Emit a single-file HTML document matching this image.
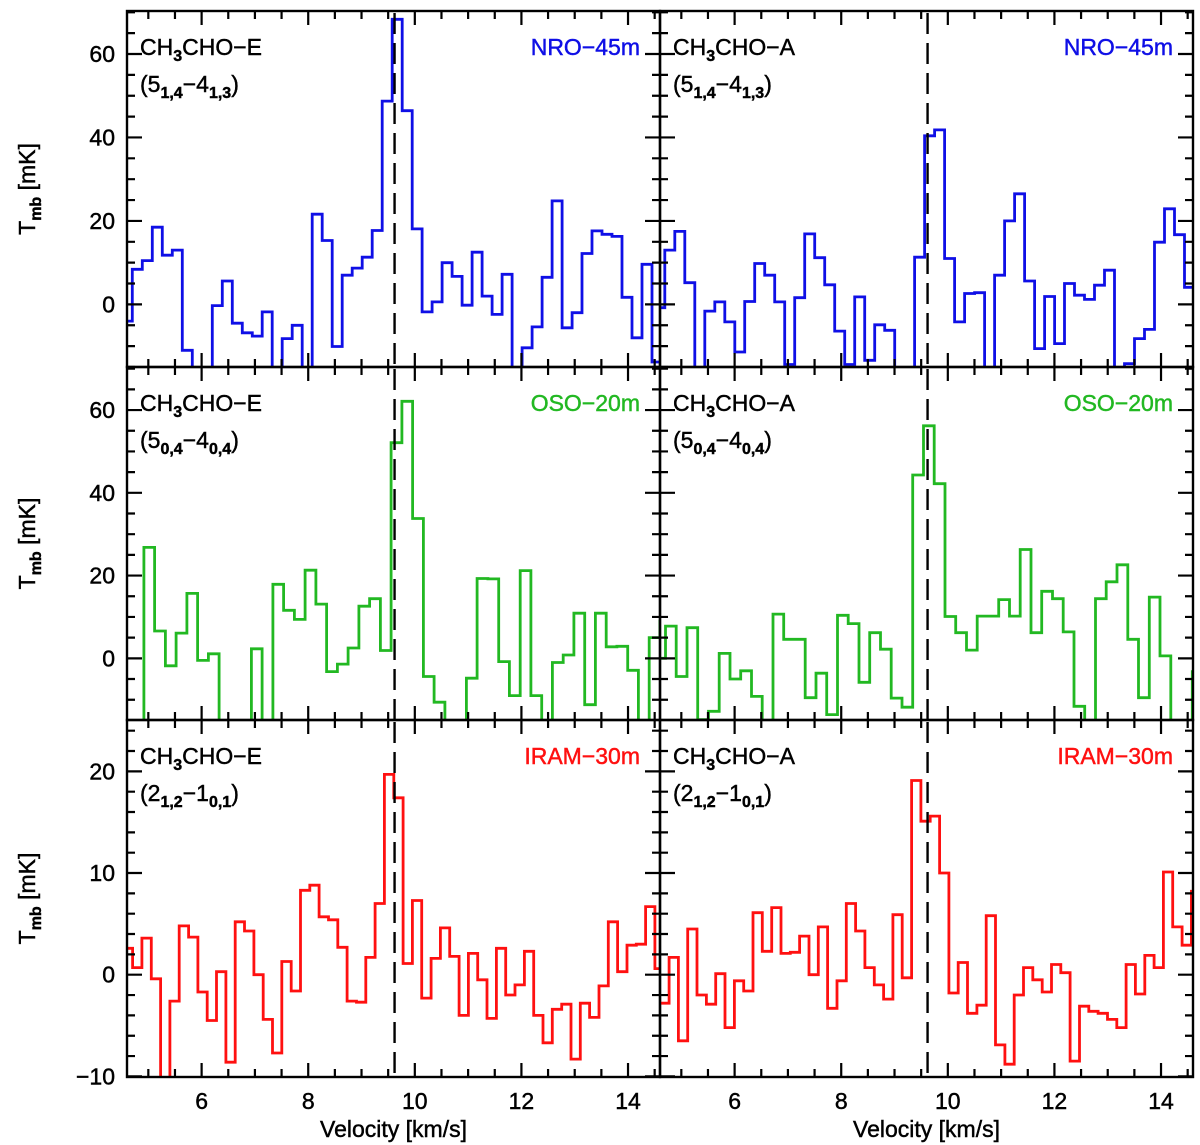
<!DOCTYPE html>
<html><head><meta charset="utf-8">
<style>
html,body{margin:0;padding:0;background:#fff;}
svg{display:block;font-family:"Liberation Sans",sans-serif;}
svg text{stroke-width:0.45;}
</style></head>
<body>
<svg id="chart" width="1200" height="1145" viewBox="0 0 1200 1145" xmlns="http://www.w3.org/2000/svg"></svg>
<script>
// ---- data ----
const velocityTicks = [6, 8, 10, 12, 14];
const vSys = 9.62;
const nroEStart = 4.5125, nroAStart = 4.5025, nroWidth = 0.1875;
const nroE = [-4, 8.4, 10.5, 18.5, 11.8, 13.0, -11, -20, -20, -0.3, 5.6, -4.5, -6.8, -7.6, -1.8, -18, -8.2, -5.0, -20, 21.6, 15.3, -10.1, 7.0, 8.7, 11.3, 17.7, 48.7, 68.3, 46.4, 18.1, -1.8, 0.6, 10.0, 6.7, -0.2, 12.5, 2.0, -2.4, 7.2, -16, -10.4, -5.4, 6.5, 24.8, -5.6, -2.0, 12.2, 17.6, 16.8, 16.3, 1.7, -8.0, 9.6, -13.8, -10];
const nroA = [-0.8, 13.0, 17.5, 5.2, -20, -1.6, 0.6, -4.2, -11.4, 0.7, 9.8, 7.0, 0.6, -14.4, 1.6, 16.9, 11.2, 4.7, -6.4, -14.4, 1.8, -13.4, -4.9, -6.2, -20, -20, 11.3, 40.4, 41.8, 11.0, -4.2, 2.6, 2.8, -20, 7.0, 20.0, 26.5, 5.6, -10.6, 1.9, -9.4, 5.0, 2.2, 1.2, 4.6, 8.2, -20, -14.2, -8.2, -6.0, 14.9, 22.9, 16.7, 4.1, -2.6];
const osoEStart = 4.715, osoAStart = 4.501, osoWidth = 0.2017;
const osoE = [-20, 26.8, 6.6, -1.8, 6.1, 15.7, -0.5, 1.1, -20, -20, -20, 2.3, -20, 17.9, 11.6, 9.4, 21.3, 13.1, -3.2, -1.4, 2.5, 12.6, 14.4, 1.9, 52.1, 62.1, 33.8, -4.4, -10.6, -20, -20, -4.8, 19.3, 19.2, -0.8, -9.0, 21.2, -9.0, -20, -1.0, 0.8, 10.9, -11.2, 10.9, 2.8, 2.9, -2.9, -20, 5.0, 9.0];
const osoA = [0.0, 7.8, -4.4, 7.4, -14.8, -12.8, 1.2, -5.0, -3.0, -9.2, -20, 10.7, 4.6, 4.6, -9.5, -3.6, -13.6, 10.4, 8.4, -5.8, 6.2, 2.2, -9.6, -11.8, 44.3, 56.2, 42.2, 10.1, 6.2, 2.0, 10.2, 10.2, 14.2, 10.2, 26.3, 6.2, 16.2, 14.4, 6.4, -11.6, -20, 14.4, 18.5, 22.6, 4.6, -9.5, 14.8, 0.6, -20, -20, -3.2];
const iramEStart = 4.53, iramAStart = 4.595, iramWidth = 0.175;
const iramE = [2.6, 0.7, 3.6, -0.4, -12, -2.6, 4.8, 3.7, -1.7, -4.5, 0.3, -8.6, 5.2, 4.3, 0.0, -4.4, -7.7, 1.3, -1.6, 8.3, 8.8, 5.7, 5.4, 2.7, -2.6, -2.7, 1.7, 7.0, 19.7, 17.4, 1.1, 7.3, -2.3, 1.6, 4.6, 1.8, -4.0, 2.1, -0.5, -4.3, 2.6, -2.0, -1.0, 2.3, -4.0, -6.7, -3.4, -2.9, -8.3, -2.8, -4.2, -1.1, 5.2, 0.3, 2.9, 3.0, 6.7, 0.6];
const iramA = [-2.8, 1.7, -6.5, 4.5, -2.0, -2.9, 0.1, -5.2, -0.6, -1.6, 6.1, 2.3, 6.6, 2.1, 2.2, 3.8, 0.0, 4.7, -3.3, -0.6, 7.0, 4.3, 0.7, -1.0, -2.4, 5.9, -0.3, 19.1, 15.1, 15.6, 10.0, -1.8, 1.2, -3.8, -3.0, 5.8, -6.9, -8.8, -2.0, 0.7, -0.5, -1.7, 1.0, 0.2, -8.5, -3.1, -3.6, -3.8, -4.4, -5.2, 1.0, -1.9, 1.9, 0.7, 10.1, 4.7, 2.9, 8.2];
const topYTicks = [0, 20, 40, 60];
const midYTicks = [0, 20, 40, 60];
const botYTicks = [-10, 0, 10, 20];

const NS = "http://www.w3.org/2000/svg";
const svg = document.getElementById("chart");
function mk(tag, attrs, parent) {
  const e = document.createElementNS(NS, tag);
  for (const k in attrs) e.setAttribute(k, attrs[k]);
  (parent || svg).appendChild(e);
  return e;
}
const XMIN = 4.6, XMAX = 14.6;
const cols = [{x0: 127, x1: 660}, {x0: 660, x1: 1193}];
const rows = [
  {y0: 11, y1: 367, vmin: -15.0, vmax: 70.3, major: 20, minor: 5, ticks: topYTicks, color: "#0f0fe6", tel: "NRO\u221245m", trans: ["5", "1,4", "4", "1,3"]},
  {y0: 367, y1: 720, vmin: -14.9, vmax: 70.4, major: 20, minor: 5, ticks: midYTicks, color: "#22b822", tel: "OSO\u221220m", trans: ["5", "0,4", "4", "0,4"]},
  {y0: 720, y1: 1077, vmin: -10.06, vmax: 25.05, major: 10, minor: 2, ticks: botYTicks, color: "#ff1010", tel: "IRAM\u221230m", trans: ["2", "1,2", "1", "0,1"]}
];
const series = [
  [[nroE, nroEStart, nroWidth], [nroA, nroAStart, nroWidth]],
  [[osoE, osoEStart, osoWidth], [osoA, osoAStart, osoWidth]],
  [[iramE, iramEStart, iramWidth], [iramA, iramAStart, iramWidth]]
];
const species = ["E", "A"];

rows.forEach((r, ri) => {
  cols.forEach((c, ci) => {
    const xs = v => c.x0 + (v - XMIN) / (XMAX - XMIN) * (c.x1 - c.x0);
    const ys = v => r.y1 - (v - r.vmin) / (r.vmax - r.vmin) * (r.y1 - r.y0);
    const g = mk("g", {});
    
    
    const cid = "clip" + ri + ci;
    const cp = mk("clipPath", {id: cid}, g);
    mk("rect", {x: c.x0, y: r.y0, width: c.x1 - c.x0, height: r.y1 - r.y0}, cp);
    const [vals, start, w] = series[ri][ci];
    let d = "";
    vals.forEach((v, i) => {
      const xa = xs(start + i * w), xb = xs(start + (i + 1) * w), yy = ys(v);
      d += (i === 0 ? "M" + xa.toFixed(1) + "," + yy.toFixed(1) : "V" + yy.toFixed(1)) + "H" + xb.toFixed(1);
    });
    const p = mk("path", {d: d, fill: "none", stroke: r.color, "stroke-width": 2.8, "clip-path": "url(#" + cid + ")"}, g);
    
    
    const dl = mk("line", {x1: xs(vSys), x2: xs(vSys), y1: r.y0 + 2, y2: r.y1, stroke: "#000", "stroke-width": 2.4, "stroke-dasharray": "21,9"}, g);
    
    
    let td = "";
    for (let v = 5; v <= 14.5001; v += 0.5) {
      const isMaj = Math.abs(v / 2 - Math.round(v / 2)) < 1e-6;
      const L = isMaj ? 14 : 8, x = xs(v);
      td += "M" + x + "," + r.y0 + "v" + L + "M" + x + "," + r.y1 + "v-" + L;
    }
    for (let v = Math.ceil(r.vmin / r.minor) * r.minor; v <= r.vmax; v += r.minor) {
      const isMaj = Math.abs(v % r.major) < 1e-6;
      const L = isMaj ? 15 : 8, y = ys(v);
      td += "M" + c.x0 + "," + y + "h" + L + "M" + c.x1 + "," + y + "h-" + L;
    }
    mk("path", {d: td, stroke: "#000", "stroke-width": 2.2, fill: "none"}, g);
    const fr = mk("rect", {x: c.x0, y: r.y0, width: c.x1 - c.x0, height: r.y1 - r.y0, fill: "none", stroke: "#000", "stroke-width": 2.4}, g);
    
    
    const t1 = mk("text", {x: c.x0 + 13, y: r.y0 + 44, "font-size": 23, fill: "#000", stroke: "#000"}, g);
    
    
    t1.innerHTML = 'CH<tspan font-size="16" font-weight="bold" dy="6">3</tspan><tspan dy="-6">CHO\u2212' + species[ci] + '</tspan>';
    const tr = r.trans;
    const t2 = mk("text", {x: c.x0 + 13, y: r.y0 + 81, "font-size": 23, fill: "#000", stroke: "#000"}, g);
    
    
    t2.innerHTML = '(' + tr[0] + '<tspan font-size="16" font-weight="bold" dy="6">' + tr[1] + '</tspan><tspan dy="-6">\u2212' + tr[2] + '</tspan><tspan font-size="16" font-weight="bold" dy="6">' + tr[3] + '</tspan><tspan dy="-6">)</tspan>';
    const t3 = mk("text", {x: c.x1 - 20, y: r.y0 + 44, "font-size": 23, fill: r.color, stroke: r.color, "text-anchor": "end"}, g);
    
    
    t3.textContent = r.tel;
    if (ci === 0) {
      r.ticks.forEach(v => {
        const tl = mk("text", {x: 115, y: ys(v) + 8, "font-size": 23, "text-anchor": "end", fill: "#000", stroke: "#000"});
        
        
        tl.textContent = v < 0 ? "\u2212" + Math.abs(v) : String(v);
      });
      const cy = (r.y0 + r.y1) / 2;
      const yt = mk("text", {x: 0, y: 0, "font-size": 23, "text-anchor": "middle", fill: "#000", stroke: "#000", transform: "translate(35," + cy + ") rotate(-90)"});
      
      
      yt.innerHTML = 'T<tspan font-size="16" font-weight="bold" dy="6">mb</tspan><tspan dy="-6"> [mK]</tspan>';
    }
    if (ri === 2) {
      velocityTicks.forEach(v => {
        const xl = mk("text", {x: xs(v), y: 1109, "font-size": 23, "text-anchor": "middle", fill: "#000", stroke: "#000"});
        
        
        xl.textContent = String(v);
      });
      const xt = mk("text", {x: (c.x0 + c.x1) / 2, y: 1137, "font-size": 23, "text-anchor": "middle", fill: "#000", stroke: "#000"});
      
      
      xt.textContent = "Velocity [km/s]";
    }
  });
});
</script>
</body></html>
